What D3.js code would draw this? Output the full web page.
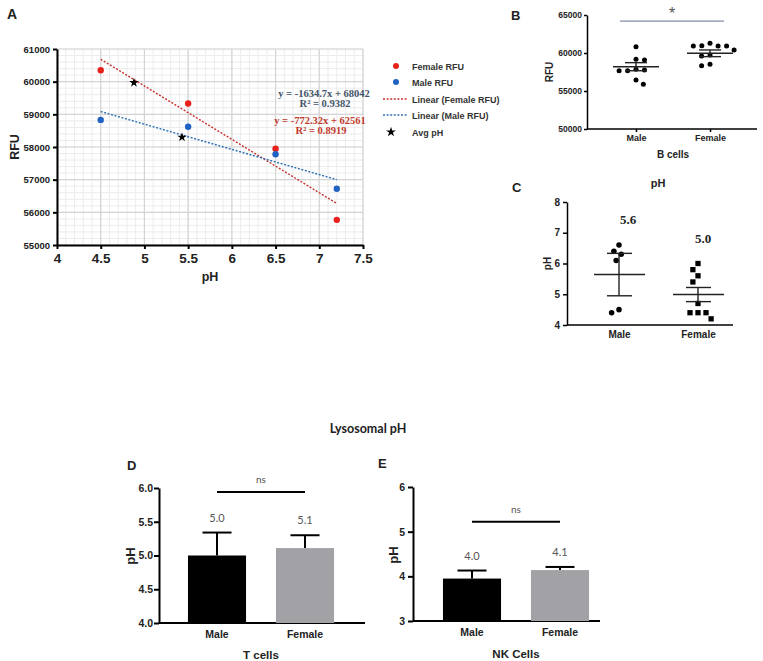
<!DOCTYPE html>
<html><head><meta charset="utf-8">
<script src="https://cdn.jsdelivr.net/npm/d3@7"></script>
<style>body{margin:0;background:#fff}svg{display:block}</style>
</head><body><svg id="c" width="763" height="661"></svg>
<script>
// ---------- Panel A data ----------
const pHLevels = [4.5, 5.5, 6.5, 7.2];
const femaleRFU = [60350, 59330, 57950, 55770];
const maleRFU = [58830, 58620, 57780, 56720];
const avgPH = [4.88, 5.43];
const avgPHRFU = [59970, 58300];
const femaleFit = [-1634.7, 68042];
const maleFit = [-772.32, 62561];
const fitRange = [4.5, 7.2];
const fitTexts = ["y = -1634.7x + 68042", "R² = 0.9382", "y = -772.32x + 62561", "R² = 0.8919"];
const legendA = ["Female RFU", "Male RFU", "Linear (Female RFU)", "Linear (Male RFU)", "Avg pH"];
const xTicksA = [4, 4.5, 5, 5.5, 6, 6.5, 7, 7.5];
const yTicksA = [55000, 56000, 57000, 58000, 59000, 60000, 61000];

// ---------- Panel B data ----------
const groups = ["Male", "Female"];
const bMale = [60830, 59170, 59080, 57850, 57760, 57670, 57670, 56450, 55880];
const bFemale = [61270, 60920, 60920, 60920, 60960, 60400, 59740, 59600, 58510, 58330];
const bMean = [58200, 59960];
const bSEM = [530, 440];
const bSig = 64200;
const yTicksB = [50000, 55000, 60000, 65000];

// ---------- Panel C data ----------
const cMale = [6.6, 6.4, 6.3, 6.1, 4.5, 4.4];
const cFemale = [6.0, 5.8, 5.6, 5.4, 4.7, 4.4, 4.4, 4.4, 4.2];
const cMean = [5.64, 4.99];
const cSEM = [0.69, 0.23];
const cLabels = ["5.6", "5.0"];
const yTicksC = [4, 5, 6, 7, 8];

// ---------- Panel D data (T cells) ----------
const dMean = [5.0, 5.11];
const dSEM = [0.34, 0.19];
const dLabels = ["5.0", "5.1"];
const dSig = 5.94;
const yTicksD = [4.0, 4.5, 5.0, 5.5, 6.0];

// ---------- Panel E data (NK cells) ----------
const eMean = [3.95, 4.14];
const eSEM = [0.18, 0.07];
const eLabels = ["4.0", "4.1"];
const eSig = 5.22;
const yTicksE = [3, 4, 5, 6];

const SANS = "'Liberation Sans', Arial, sans-serif";
const SERIF = "'Liberation Serif', 'Times New Roman', serif";
const LATO = "Lato, 'Open Sans', sans-serif";
const svg = d3.select("#c");
svg.append("rect").attr("width", 763).attr("height", 661).attr("fill", "#fff");

function txt(g, x, y, s, o = {}) {
  return g.append("text").attr("x", x).attr("y", y).text(s)
    .attr("font-family", o.ff || SANS).attr("font-size", o.fs || 10)
    .attr("font-weight", o.fw || "bold").attr("fill", o.fill || "#222")
    .attr("text-anchor", o.anchor || "middle");
}
function vtxt(g, x, y, s, o = {}) {
  return txt(g, 0, 0, s, o).attr("transform", `translate(${x},${y}) rotate(-90)`);
}
function styleAxis(g, fs, ff, sw) {
  g.select(".domain").attr("stroke", "#000").attr("stroke-width", sw);
  g.selectAll(".tick line").attr("stroke", "#000").attr("stroke-width", sw);
  g.selectAll(".tick text").attr("font-family", ff).attr("font-size", fs)
    .attr("font-weight", "bold").attr("fill", "#222");
}
function swarm(vals, y, D) {
  const order = vals.map((v, i) => i).sort((a, b) => vals[b] - vals[a]);
  const placed = [], off = new Array(vals.length);
  order.forEach((i, k) => {
    const py = y(vals[i]);
    const ints = [];
    placed.forEach(p => {
      const dy = Math.abs(p.y - py);
      if (dy < D) { const w = Math.sqrt(D * D - dy * dy); ints.push([p.x - w, p.x + w]); }
    });
    const cands = [0];
    ints.forEach(iv => { cands.push(iv[0], iv[1]); });
    const ok = c => ints.every(iv => c <= iv[0] + 1e-6 || c >= iv[1] - 1e-6);
    const feas = cands.filter(ok).sort((a, b) => Math.abs(a) - Math.abs(b) || (k % 2 ? a - b : b - a));
    const dx = feas[0];
    off[i] = dx;
    placed.push({ x: dx, y: py });
  });
  return off;
}

// ================= Panel A =================
const A = svg.append("g");
const xA = d3.scaleLinear().domain([4, 7.5]).range([57, 363]);
const yA = d3.scaleLinear().domain([55000, 61000]).range([245, 49]);
txt(A, 7, 19, "A", { fs: 14, anchor: "start" });
const minorX = d3.range(40, 76).map(d => d / 10);
const minorY = d3.range(55000, 61001, 200);
A.append("g").selectAll("line").data(minorX).join("line")
  .attr("x1", d => xA(d)).attr("x2", d => xA(d)).attr("y1", yA(55000)).attr("y2", yA(61000))
  .attr("stroke", "#ececec").attr("stroke-width", 1);
A.append("g").selectAll("line").data(minorY).join("line")
  .attr("y1", d => yA(d)).attr("y2", d => yA(d)).attr("x1", xA(4)).attr("x2", xA(7.5))
  .attr("stroke", "#ececec").attr("stroke-width", 1);
A.append("g").selectAll("line").data(xTicksA).join("line")
  .attr("x1", d => xA(d)).attr("x2", d => xA(d)).attr("y1", yA(55000)).attr("y2", yA(61000))
  .attr("stroke", "#d4d4d4").attr("stroke-width", 1.2);
A.append("g").selectAll("line").data(yTicksA).join("line")
  .attr("y1", d => yA(d)).attr("y2", d => yA(d)).attr("x1", xA(4)).attr("x2", xA(7.5))
  .attr("stroke", "#d4d4d4").attr("stroke-width", 1.2);
const gyA = A.append("g").attr("transform", `translate(${xA(4)},0)`)
  .call(d3.axisLeft(yA).tickValues(yTicksA).tickSize(4).tickSizeOuter(0).tickPadding(3).tickFormat(d3.format("d")));
styleAxis(gyA, 9.5, SANS, 2);
const gxA = A.append("g").attr("transform", `translate(0,${yA(55000)})`)
  .call(d3.axisBottom(xA).tickValues(xTicksA).tickSize(4).tickSizeOuter(0).tickPadding(4).tickFormat(d => d));
styleAxis(gxA, 13.5, SANS, 2);
vtxt(A, 19, yA(58000), "RFU", { fs: 12.5 });
txt(A, 210, 281, "pH", { fs: 12.5 });
// trend lines
function fitLine(fit) { return fitRange.map(x => [x, fit[0] * x + fit[1]]); }
const lineA = d3.line().x(d => xA(d[0])).y(d => yA(d[1]));
A.append("path").attr("d", lineA(fitLine(femaleFit))).attr("fill", "none")
  .attr("stroke", "#c8322d").attr("stroke-width", 1.4).attr("stroke-dasharray", "2,1.6");
A.append("path").attr("d", lineA(fitLine(maleFit))).attr("fill", "none")
  .attr("stroke", "#2f72b8").attr("stroke-width", 1.4).attr("stroke-dasharray", "2,1.6");
A.append("g").selectAll("circle").data(pHLevels).join("circle")
  .attr("cx", d => xA(d)).attr("cy", (d, i) => yA(femaleRFU[i])).attr("r", 3.2).attr("fill", "#e8201c");
A.append("g").selectAll("circle").data(pHLevels).join("circle")
  .attr("cx", d => xA(d)).attr("cy", (d, i) => yA(maleRFU[i])).attr("r", 3.2).attr("fill", "#1f62c4");
const star = d3.symbol(d3.symbolStar).size(28);
A.append("g").selectAll("path").data(avgPH).join("path").attr("d", star)
  .attr("transform", (d, i) => `translate(${xA(d)},${yA(avgPHRFU[i])})`).attr("fill", "#000");
// equations
txt(A, 324, 97, fitTexts[0], { ff: SERIF, fs: 10.5, fill: "#44546a" });
txt(A, 325, 107, fitTexts[1], { ff: SERIF, fs: 10.5, fill: "#44546a" });
txt(A, 320, 124, fitTexts[2], { ff: SERIF, fs: 10.5, fill: "#c0392b" });
txt(A, 321, 134, fitTexts[3], { ff: SERIF, fs: 10.5, fill: "#c0392b" });
// legend
const legY = [66, 82, 99, 115, 132];
legendA.forEach((s, i) => txt(A, 412, legY[i] + 3.5, s, { fs: 9, anchor: "start", fill: "#333" }));
A.append("circle").attr("cx", 396).attr("cy", legY[0]).attr("r", 3).attr("fill", "#e8201c");
A.append("circle").attr("cx", 396).attr("cy", legY[1]).attr("r", 3).attr("fill", "#1f62c4");
A.append("line").attr("x1", 383).attr("x2", 408).attr("y1", legY[2]).attr("y2", legY[2])
  .attr("stroke", "#c8322d").attr("stroke-width", 1.4).attr("stroke-dasharray", "2,1.6");
A.append("line").attr("x1", 383).attr("x2", 408).attr("y1", legY[3]).attr("y2", legY[3])
  .attr("stroke", "#2f72b8").attr("stroke-width", 1.4).attr("stroke-dasharray", "2,1.6");
A.append("path").attr("d", d3.symbol(d3.symbolStar).size(30)).attr("transform", `translate(391,${legY[4]})`).attr("fill", "#000");

// ================= Panel B =================
const B = svg.append("g");
const xB = d3.scalePoint().domain(groups).range([636, 710]);
const yB = d3.scaleLinear().domain([50000, 65000]).range([129, 15]);
txt(B, 511, 20, "B", { fs: 13, anchor: "start" });
const gyB = B.append("g").attr("transform", "translate(587,0)")
  .call(d3.axisLeft(yB).tickValues(yTicksB).tickSize(3).tickSizeOuter(0).tickPadding(2).tickFormat(d3.format("d")));
styleAxis(gyB, 8.5, SANS, 1.5);
const gxB = B.append("g").attr("transform", "translate(0,129)")
  .call(d3.axisBottom(xB).tickSize(3).tickSizeOuter(0).tickPadding(3));
gxB.select(".domain").remove();
styleAxis(gxB, 9, SANS, 1.5);
B.append("line").attr("x1", 587).attr("x2", 757).attr("y1", 129).attr("y2", 129).attr("stroke", "#000").attr("stroke-width", 1.5);
vtxt(B, 553, 72, "RFU", { fs: 10 });
txt(B, 673, 158, "B cells", { fs: 10 });
B.append("line").attr("x1", 620).attr("x2", 724).attr("y1", yB(bSig)).attr("y2", yB(bSig)).attr("stroke", "#7f8ea8").attr("stroke-width", 1.2);
txt(B, 672, 19, "*", { fs: 16, fw: "normal", fill: "#555" });
[bMale, bFemale].forEach((vals, gi) => {
  const off = swarm(vals, yB, 8.5);
  const cx = xB(groups[gi]);
  B.append("g").selectAll("circle").data(vals).join("circle")
    .attr("cx", (d, i) => cx + off[i]).attr("cy", d => yB(d)).attr("r", 2.5).attr("fill", "#000");
  const m = bMean[gi], s = bSEM[gi];
  B.append("line").attr("x1", cx - 23).attr("x2", cx + 23).attr("y1", yB(m)).attr("y2", yB(m)).attr("stroke", "#222").attr("stroke-width", 1.6);
  B.append("line").attr("x1", cx).attr("x2", cx).attr("y1", yB(m - s)).attr("y2", yB(m + s)).attr("stroke", "#222").attr("stroke-width", 1.4);
  [m - s, m + s].forEach(v => B.append("line").attr("x1", cx - 11).attr("x2", cx + 11).attr("y1", yB(v)).attr("y2", yB(v)).attr("stroke", "#222").attr("stroke-width", 1.4));
});

// ================= Panel C =================
const C = svg.append("g");
const xC = d3.scalePoint().domain(groups).range([619, 698]);
const yC = d3.scaleLinear().domain([4, 8]).range([325, 202]);
txt(C, 512, 192, "C", { fs: 13, anchor: "start" });
txt(C, 658, 187, "pH", { fs: 11 });
const gyC = C.append("g").attr("transform", "translate(567,0)")
  .call(d3.axisLeft(yC).tickValues(yTicksC).tickSize(4).tickSizeOuter(0).tickPadding(3).tickFormat(d3.format("d")));
styleAxis(gyC, 10, SANS, 1.5);
const gxC = C.append("g").attr("transform", "translate(0,325)")
  .call(d3.axisBottom(xC).tickSize(0).tickPadding(6));
gxC.select(".domain").remove();
styleAxis(gxC, 10, SANS, 1.5);
C.append("line").attr("x1", 567).attr("x2", 733).attr("y1", 325).attr("y2", 325).attr("stroke", "#000").attr("stroke-width", 1.5);
vtxt(C, 551, yC(6), "pH", { fs: 10 });
[cMale, cFemale].forEach((vals, gi) => {
  const off = swarm(vals, yC, 8);
  const cx = xC(groups[gi]);
  const sym = d3.symbol(gi === 0 ? d3.symbolCircle : d3.symbolSquare).size(gi === 0 ? 24 : 28);
  C.append("g").selectAll("path").data(vals).join("path").attr("d", sym)
    .attr("transform", (d, i) => `translate(${cx + off[i]},${yC(d)})`).attr("fill", "#000");
  const m = cMean[gi], s = cSEM[gi];
  C.append("line").attr("x1", cx - 25).attr("x2", cx + 26).attr("y1", yC(m)).attr("y2", yC(m)).attr("stroke", "#222").attr("stroke-width", 1.4);
  C.append("line").attr("x1", cx).attr("x2", cx).attr("y1", yC(m - s)).attr("y2", yC(m + s)).attr("stroke", "#222").attr("stroke-width", 1.4);
  [m - s, m + s].forEach(v => C.append("line").attr("x1", cx - 12).attr("x2", cx + 13).attr("y1", yC(v)).attr("y2", yC(v)).attr("stroke", "#222").attr("stroke-width", 1.4));
});
txt(C, 628, 224, cLabels[0], { ff: SERIF, fs: 13 });
txt(C, 703, 243, cLabels[1], { ff: SERIF, fs: 13 });

// ================= Title =================
txt(svg, 368, 433, "Lysosomal pH", { ff: LATO, fs: 12.5 });

// bar panel helper
function barPanel(cfg) {
  const g = svg.append("g");
  const x = d3.scaleBand().domain(groups).range(cfg.xr).paddingInner(0.34).paddingOuter(0.17);
  const y = d3.scaleLinear().domain(cfg.yd).range(cfg.yr);
  txt(g, cfg.letter[0], cfg.letter[1], cfg.letter[2], { fs: 13, anchor: "start" });
  const gy = g.append("g").attr("transform", `translate(${cfg.ax0},0)`)
    .call(d3.axisLeft(y).tickValues(cfg.ticks).tickSize(5).tickSizeOuter(0).tickPadding(cfg.pad).tickFormat(cfg.fmt));
  styleAxis(gy, 10.5, SANS, 2);
  const gx = g.append("g").attr("transform", `translate(0,${cfg.yr[0]})`)
    .call(d3.axisBottom(x).tickSize(0).tickPadding(8));
  gx.select(".domain").remove();
  styleAxis(gx, 10.5, SANS, 2);
  g.append("line").attr("x1", cfg.ax0).attr("x2", cfg.ax1).attr("y1", cfg.yr[0]).attr("y2", cfg.yr[0]).attr("stroke", "#000").attr("stroke-width", 2);
  const bw = x.bandwidth();
  groups.forEach((gr, i) => {
    const m = cfg.mean[i], s = cfg.sem[i], cx = x(gr) + bw / 2;
    g.append("line").attr("x1", cx).attr("x2", cx).attr("y1", y(m)).attr("y2", y(m + s)).attr("stroke", "#000").attr("stroke-width", 2);
    g.append("line").attr("x1", cx - bw / 4).attr("x2", cx + bw / 4).attr("y1", y(m + s)).attr("y2", y(m + s)).attr("stroke", "#000").attr("stroke-width", 2);
    g.append("rect").attr("x", x(gr)).attr("y", y(m)).attr("width", bw).attr("height", y(cfg.yd[0]) - y(m))
      .attr("fill", i === 0 ? "#000" : "#a2a2a6");
    txt(g, cx, y(m + s) - 11, cfg.labels[i], { ff: LATO, fs: 11, fw: "normal", fill: "#555" });
  });
  const c0 = x(groups[0]) + bw / 2, c1 = x(groups[1]) + bw / 2;
  g.append("line").attr("x1", c0).attr("x2", c1).attr("y1", y(cfg.sig)).attr("y2", y(cfg.sig)).attr("stroke", "#000").attr("stroke-width", 2);
  txt(g, (c0 + c1) / 2, y(cfg.sig) - 9, "ns", { ff: LATO, fs: 10, fw: "normal", fill: "#555" });
  vtxt(g, cfg.ylab[0], cfg.ylab[1], "pH", { fs: 13 });
  txt(g, (cfg.xr[0] + cfg.xr[1]) / 2, cfg.xlabY, cfg.xlab, { fs: 11.5 });
}
barPanel({ xr: [173, 349], yd: [4, 6], yr: [623, 488], ax0: 159, ax1: 365, ticks: yTicksD, pad: 1, fmt: d3.format(".1f"),
  mean: dMean, sem: dSEM, labels: dLabels, sig: dSig, letter: [127, 470, "D"], ylab: [135, 556], xlab: "T cells", xlabY: 659 });
barPanel({ xr: [428, 604], yd: [3, 6], yr: [621, 487], ax0: 413, ax1: 600, ticks: yTicksE, pad: 3, fmt: d3.format("d"),
  mean: eMean, sem: eSEM, labels: eLabels, sig: eSig, letter: [378, 468, "E"], ylab: [398, 555], xlab: "NK Cells", xlabY: 658 });
</script></body></html>
